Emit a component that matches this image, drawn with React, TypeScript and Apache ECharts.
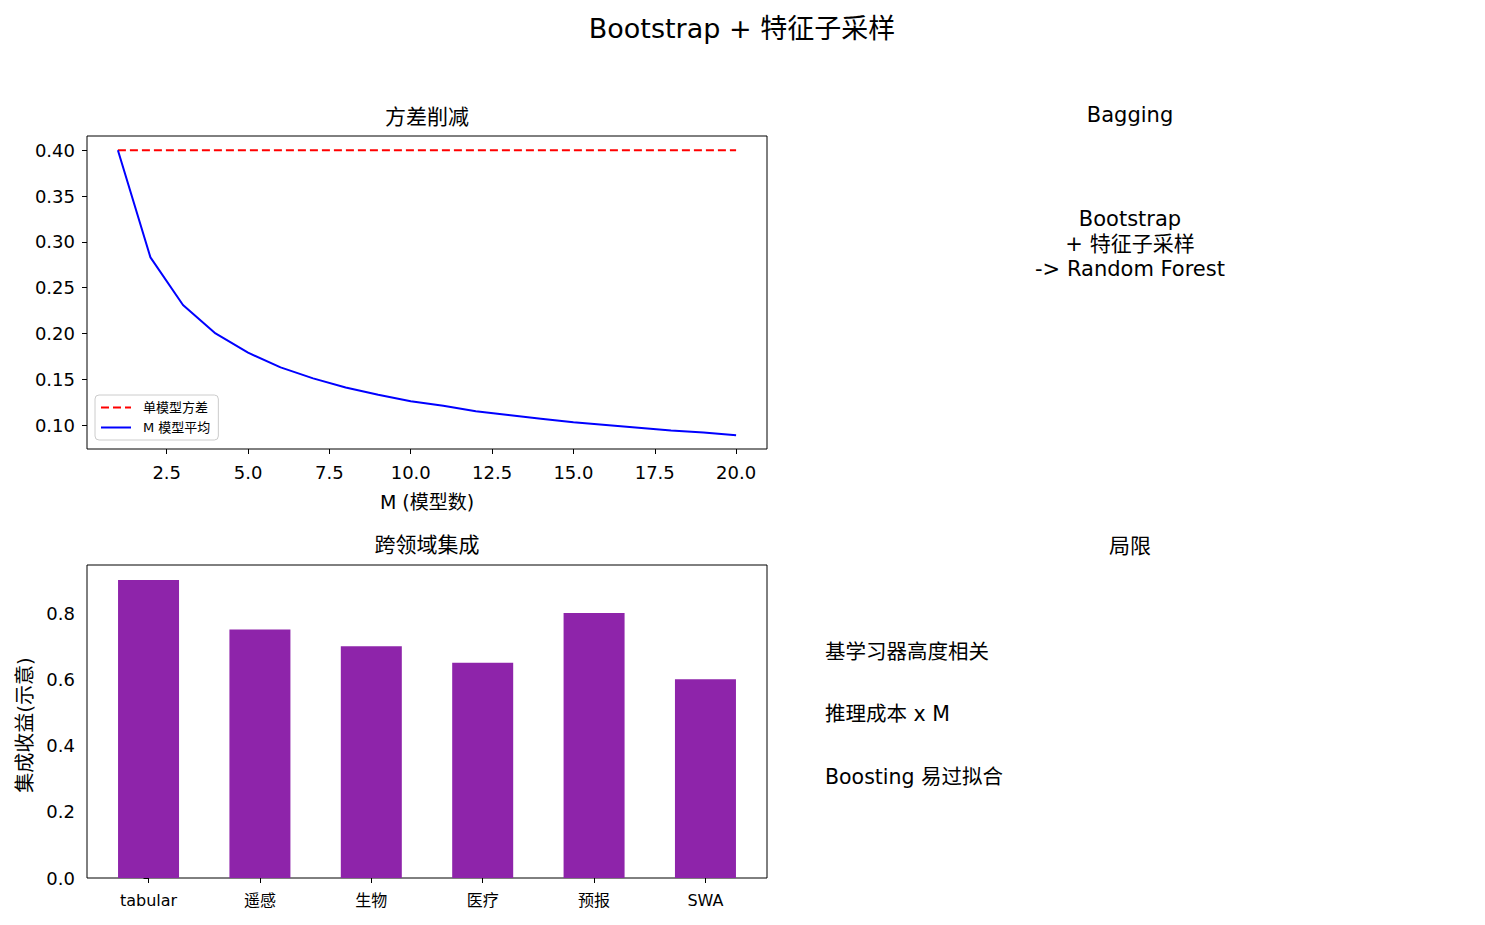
import { useEffect, useRef } from 'react'
import * as echarts from 'echarts'

// 数据
const modelCounts = [1, 2, 3, 4, 5, 6, 7, 8, 9, 10, 11, 12, 13, 14, 15, 16, 17, 18, 19, 20]
const singleVariance = [0.4, 0.4, 0.4, 0.4, 0.4, 0.4, 0.4, 0.4, 0.4, 0.4, 0.4, 0.4, 0.4, 0.4, 0.4, 0.4, 0.4, 0.4, 0.4, 0.4]
const avgVariance = [0.400, 0.283, 0.231, 0.200, 0.179, 0.163, 0.151, 0.141, 0.133, 0.126, 0.121, 0.115, 0.111, 0.107, 0.103, 0.100, 0.097, 0.094, 0.092, 0.089]
const lineXTicks = [2.5, 5, 7.5, 10, 12.5, 15, 17.5, 20]
const lineYTicks = [0.10, 0.15, 0.20, 0.25, 0.30, 0.35, 0.40]

const domains = ['tabular', '遥感', '生物', '医疗', '预报', 'SWA']
const gains = [0.9, 0.75, 0.7, 0.65, 0.8, 0.6]
const barYTicks = [0, 0.2, 0.4, 0.6, 0.8]

const limits = ['基学习器高度相关', '推理成本 x M', 'Boosting 易过拟合']

const FONT = "'DejaVu Sans', 'Noto Sans CJK SC', sans-serif"

const text = (t: string, x: number, y: number, size: number, align = 'center', extra = {}) => ({
  type: 'text',
  x,
  y,
  silent: true,
  style: {
    text: t,
    fontSize: size,
    fontFamily: FONT,
    fill: '#000',
    textAlign: align,
    textVerticalAlign: 'middle',
    ...extra
  }
})

const App: React.FC = () => {
  const chartRef = useRef<HTMLDivElement | null>(null)

  useEffect(() => {
    document.body.style.margin = '0'
    if (chartRef.current === null) return
    const chart = echarts.init(chartRef.current, null, { renderer: 'svg' })

    const tickStyle = { show: true, inside: false, length: 5, lineStyle: { color: '#000', width: 1 } }
    const labelFont = { color: '#000', fontFamily: FONT, fontSize: 18 }

    const option = {
      animation: false,
      backgroundColor: '#fff',
      textStyle: { fontFamily: FONT },
      grid: [
        { left: 87, top: 136, width: 680, height: 313, show: true, borderColor: '#000', borderWidth: 1, backgroundColor: 'transparent' },
        { left: 87, top: 565, width: 680, height: 313, show: true, borderColor: '#000', borderWidth: 1, backgroundColor: 'transparent' }
      ],
      xAxis: [
        {
          type: 'value',
          gridIndex: 0,
          min: 0.05,
          max: 20.95,
          axisLine: { show: false },
          splitLine: { show: false },
          axisTick: { ...tickStyle, customValues: lineXTicks },
          axisLabel: { ...labelFont, margin: 14, customValues: lineXTicks, formatter: (v: number) => v.toFixed(1) }
        },
        {
          type: 'value',
          gridIndex: 1,
          min: -0.5525,
          max: 5.5525,
          axisLine: { show: false },
          splitLine: { show: false },
          axisTick: { ...tickStyle, customValues: [0, 1, 2, 3, 4, 5] },
          axisLabel: {
            ...labelFont,
            fontSize: 16,
            margin: 14,
            customValues: [0, 1, 2, 3, 4, 5],
            formatter: (v: number) => domains[Math.round(v)]
          }
        }
      ],
      yAxis: [
        {
          type: 'value',
          gridIndex: 0,
          min: 0.0739,
          max: 0.4155,
          axisLine: { show: false },
          splitLine: { show: false },
          axisTick: { ...tickStyle, customValues: lineYTicks },
          axisLabel: { ...labelFont, margin: 12, customValues: lineYTicks, formatter: (v: number) => v.toFixed(2) }
        },
        {
          type: 'value',
          gridIndex: 1,
          min: 0,
          max: 0.945,
          axisLine: { show: false },
          splitLine: { show: false },
          axisTick: { ...tickStyle, customValues: barYTicks },
          axisLabel: { ...labelFont, margin: 12, customValues: barYTicks, formatter: (v: number) => v.toFixed(1) }
        }
      ],
      legend: {
        left: 95,
        top: 395,
        orient: 'vertical',
        itemWidth: 30,
        itemHeight: 14,
        itemGap: 7,
        padding: [6, 8, 6, 5],
        borderColor: '#cccccc',
        borderWidth: 1,
        borderRadius: 4,
        backgroundColor: 'rgba(255,255,255,0.8)',
        itemStyle: { opacity: 0 },
        textStyle: { fontFamily: FONT, fontSize: 13, color: '#000', padding: [0, 0, 0, 7] },
        data: ['单模型方差', 'M 模型平均']
      },
      series: [
        {
          name: '单模型方差',
          type: 'line',
          xAxisIndex: 0,
          yAxisIndex: 0,
          symbol: 'none',
          data: modelCounts.map((m, i) => [m, singleVariance[i]]),
          lineStyle: { color: '#ff0000', width: 2, type: [8, 4] },
          itemStyle: { color: '#ff0000' }
        },
        {
          name: 'M 模型平均',
          type: 'line',
          xAxisIndex: 0,
          yAxisIndex: 0,
          symbol: 'none',
          data: modelCounts.map((m, i) => [m, avgVariance[i]]),
          lineStyle: { color: '#0000ff', width: 2 },
          itemStyle: { color: '#0000ff' }
        },
        {
          name: '集成收益',
          type: 'bar',
          xAxisIndex: 1,
          yAxisIndex: 1,
          barWidth: 61,
          data: domains.map((_, i) => [i, gains[i]]),
          itemStyle: { color: '#8e24aa' }
        }
      ],
      graphic: [
        text('Bootstrap + 特征子采样', 742, 28, 27),
        text('方差削减', 427, 117, 21),
        text('M (模型数)', 427, 502, 19),
        text('跨领域集成', 427, 545, 21),
        { ...text('集成收益(示意)', 25, 725, 20), rotation: Math.PI / 2 },
        text('Bagging', 1130, 115, 21),
        text('Bootstrap\n+ 特征子采样\n-> Random Forest', 1130, 244, 21, 'center', { lineHeight: 25 }),
        text('局限', 1130, 546, 21),
        ...limits.map((t, i) => text(t, 825, [652, 714, 777][i], 20.5, 'left'))
      ]
    }

    chart.setOption(option as any)
    return () => {
      chart.dispose()
    }
  }, [])

  return <div ref={chartRef} style={{ width: 1485, height: 925 }}></div>
}

export default App
